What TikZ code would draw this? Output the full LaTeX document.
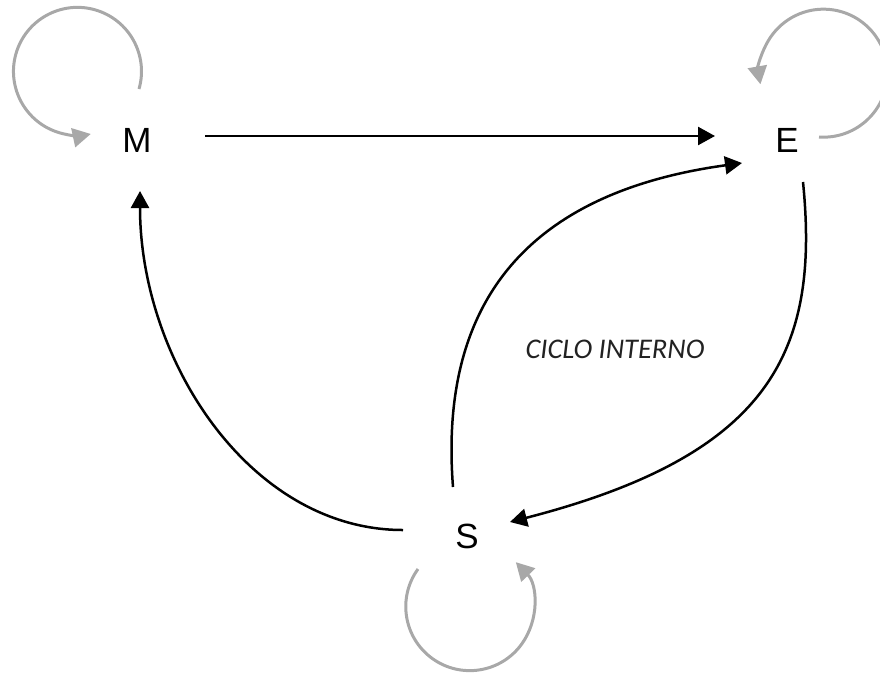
\documentclass[tikz,border=0pt]{standalone}
\usepackage{fontspec}
\setmainfont{Liberation Sans}
\newfontfamily\labelfont{Carlito}
\usetikzlibrary{arrows.meta}
\definecolor{loopgray}{HTML}{A8A8A8}
\definecolor{labelgray}{HTML}{222222}
\begin{document}
\begin{tikzpicture}[x=1pt,y=-1pt,
  state/.style={inner sep=0pt,font=\fontsize{35}{35}\selectfont},
  flow/.style={line width=2.5pt,draw=black,-{Triangle[length=17pt,width=18pt]}},
  selfloop/.style={line width=3pt,draw=loopgray,-{Triangle[length=18pt,width=19pt]}}]
\useasboundingbox (0,0) rectangle (880,673);
\node[state] (M) at (137,140) {M};
\node[state] (E) at (787,140) {E};
\node[state] (S) at (467,536) {S};
\node[text=labelgray,font=\labelfont\itshape\fontsize{28.5}{28.5}\selectfont] (lab) at (615,349) {CICLO INTERNO};
% black connectors
\draw[flow] ([shift={(68,-4)}]M.center) -- ([shift={(-72,-4)}]E.center);
\draw[flow] ([shift={(-64,-6)}]S.center) .. controls +(-153,0) and +(0,169) .. ([shift={(3,51)}]M.center);
\draw[flow] ([shift={(16,42)}]E.center) .. controls +(17,170) and +(260,-67) .. ([shift={(43,-14)}]S.center);
\draw[flow] ([shift={(-14,-49)}]S.center) .. controls +(-13,-167) and +(-232,32) .. ([shift={(-45,23)}]E.center);
% grey self loops
\draw[selfloop] ([shift={(2,-51)}]M.center) arc[start angle=16,end angle=-282,radius=64];
\draw[selfloop] ([shift={(32,-3)}]E.center) arc[start angle=94,end angle=-190,radius=64];
\draw[selfloop] ([shift={(-49,33)}]S.center) arc[start angle=216,end angle=-44,radius=64];
\end{tikzpicture}
\end{document}
